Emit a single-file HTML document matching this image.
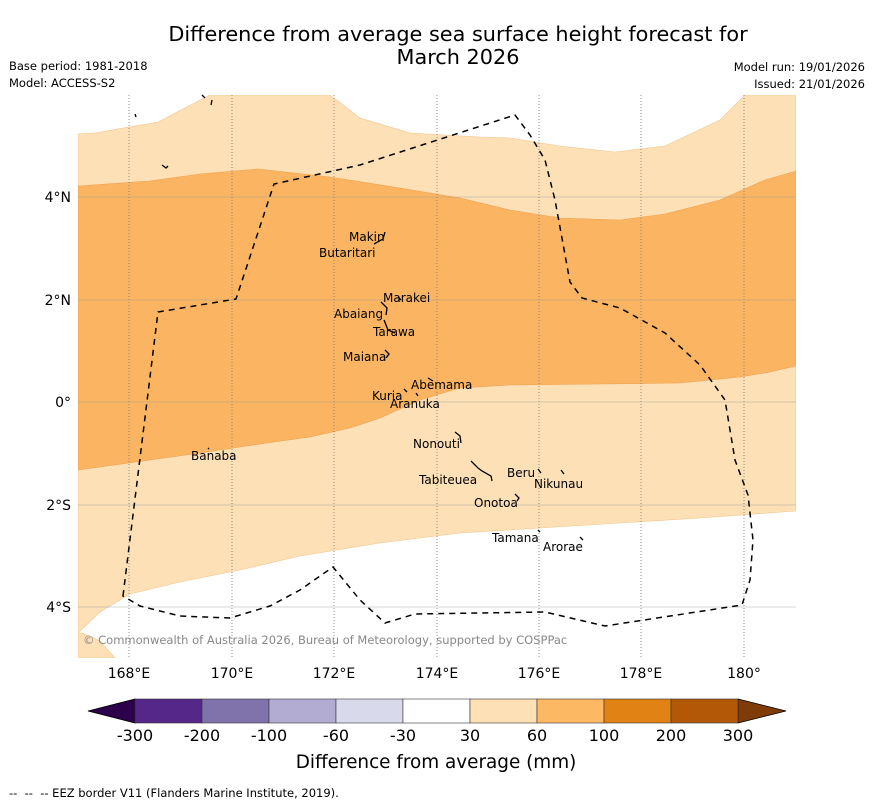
<!DOCTYPE html>
<html><head><meta charset="utf-8"><style>
body{margin:0;background:#fff;width:873px;height:804px;overflow:hidden;font-family:"DejaVu Sans","Liberation Sans",sans-serif}
svg text{font-family:"DejaVu Sans","Liberation Sans",sans-serif}
</style></head><body>
<svg width="873" height="804" viewBox="0 0 873 804" xmlns="http://www.w3.org/2000/svg">
<text x="458" y="41" text-anchor="middle" font-size="20.8">Difference from average sea surface height forecast for</text>
<text x="458" y="64" text-anchor="middle" font-size="20.8">March 2026</text>
<text x="9" y="70" font-size="11.5">Base period: 1981-2018</text>
<text x="9" y="87" font-size="11.5">Model: ACCESS-S2</text>
<text x="865" y="71" font-size="11.5" text-anchor="end">Model run: 19/01/2026</text>
<text x="865" y="88" font-size="11.5" text-anchor="end">Issued: 21/01/2026</text>

<g>
<clipPath id="mc"><rect x="78" y="95" width="718" height="563"/></clipPath>
<g clip-path="url(#mc)">
<rect x="78" y="95" width="718" height="563" fill="#fff"/>
<path fill="#fde0b6" stroke="#f3c48a" stroke-width="0.6" d="M78,134 L95,133 L158,122 L210,95 L330,95 L360,118 L410,133 L480,137 L510,138 L560,146 L615,152 L665,146 L720,120 L745,95 L796,95 L796,511 L700,518 L620,523 L540,528 L460,533 L380,543 L300,556 L240,570 L180,582 L130,594 L100,612 L78,633 Z"/>
<path fill="#fde0b6" stroke="#f3c48a" stroke-width="0.6" d="M78,633 L82,633 L100,641 L115,658 L78,658 Z"/>
<path fill="#fbb562" stroke="#eea050" stroke-width="0.6" d="M78,186 L150,181 L200,174 L258,169 L330,177 L400,188 L460,198 L510,210 L560,218 L620,220 L665,214 L720,200 L765,180 L796,171 L796,366 L770,372 L740,377 L680,383 L600,384 L510,385 L460,388 L420,400 L380,418 L350,428 L310,437 L260,444 L200,453 L150,460 L78,470 Z"/>
</g>
<g stroke="#777" stroke-width="0.8" stroke-dasharray="1,2">
<line x1="129" y1="95" x2="129" y2="658"/><line x1="232" y1="95" x2="232" y2="658"/><line x1="334" y1="95" x2="334" y2="658"/><line x1="437" y1="95" x2="437" y2="658"/><line x1="539" y1="95" x2="539" y2="658"/><line x1="641" y1="95" x2="641" y2="658"/><line x1="744" y1="95" x2="744" y2="658"/>
</g>
<g stroke="#999" stroke-width="0.6" opacity="0.8">
<line x1="78" y1="197" x2="796" y2="197"/><line x1="78" y1="300" x2="796" y2="300"/><line x1="78" y1="402" x2="796" y2="402"/><line x1="78" y1="505" x2="796" y2="505"/><line x1="78" y1="607" x2="796" y2="607"/>
</g>
<path fill="none" stroke="#000" stroke-width="1.5" stroke-dasharray="6,5" d="M123,596 L158,312 L236,299 L274,184 L360,165 L515,115 L530,135 L545,160 L555,200 L570,282 L582,298 L620,308 L665,333 L700,365 L725,400 L735,460 L748,495 L753,540 L750,580 L742,605 L605,626 L545,612 L415,614 L385,623 L360,600 L333,567 L300,590 L270,606 L230,618 L180,616 L140,606 Z"/>
<g fill="none" stroke="#000" stroke-width="1.3">
<path d="M374,244 L383,239 L385,232"/><path d="M381,302 L387,308 L386,315"/><path d="M384,320 L388,330 L395,333"/><path d="M385,350 L389,354 L386,358"/><path d="M428,378 L433,381"/><path d="M404,389 L407,392"/><path d="M416,393 L418,396"/><path d="M455,432 L460,436 L461,443"/><path d="M471,461 L478,468 L482,471 L491,476 L492,481"/><path d="M538,469 L541,473"/><path d="M561,470 L564,474"/><path d="M515,494 L519,498 L517,501"/><path d="M538,530 L540,532"/><path d="M580,537 L583,540"/><path d="M398,297 L401,300"/><path d="M208,448 L209,449"/><path d="M162,165 L166,168 L168,166"/><path d="M135,114 L136,117"/><path d="M212,100 L211,105"/><path d="M202,95 L205,98"/>
</g>
<g font-size="12">
<text x="349" y="241">Makin</text><text x="319" y="257">Butaritari</text>
<text x="383" y="302">Marakei</text><text x="334" y="318">Abaiang</text>
<text x="373" y="336">Tarawa</text><text x="343" y="361">Maiana</text>
<text x="411" y="389">Abemama</text><text x="372" y="400">Kuria</text>
<text x="390" y="408">Aranuka</text><text x="413" y="448">Nonouti</text>
<text x="419" y="484">Tabiteuea</text><text x="507" y="477">Beru</text>
<text x="534" y="488">Nikunau</text><text x="474" y="507">Onotoa</text>
<text x="492" y="542">Tamana</text><text x="543" y="551">Arorae</text>
<text x="191" y="460">Banaba</text>
</g>
<text x="83" y="644" font-size="11.5" fill="#888">© Commonwealth of Australia 2026, Bureau of Meteorology, supported by COSPPac</text>
</g>

<g font-size="14" text-anchor="end">
<text x="71" y="202">4°N</text><text x="71" y="305">2°N</text><text x="71" y="407">0°</text><text x="71" y="510">2°S</text><text x="71" y="612">4°S</text>
</g>
<g font-size="14" text-anchor="middle">
<text x="129" y="678">168°E</text><text x="232" y="678">170°E</text><text x="334" y="678">172°E</text><text x="437" y="678">174°E</text><text x="539" y="678">176°E</text><text x="641" y="678">178°E</text><text x="744" y="678">180°</text>
</g>

<g id="cbar"></g>
<text x="436" y="768" text-anchor="middle" font-size="18.4">Difference from average (mm)</text>
<text x="9" y="797" font-size="11.5" style="white-space:pre">--  --  -- EEZ border V11 (Flanders Marine Institute, 2019).</text>
</svg>
<script>
const cbLevels=["-300","-200","-100","-60","-30","30","60","100","200","300"];
const cbColors=["#542788","#8073ac","#b2abd2","#d8daeb","#ffffff","#fee0b6","#fdb863","#e08214","#b35806"];
const cbUnder="#2d004b", cbOver="#7f3b08";
const g=document.getElementById('cbar');
const NS="http://www.w3.org/2000/svg";
const x0=135,x1=738,y0=699,y1=723;
function cx(i){return x0+(x1-x0)*i/(cbLevels.length-1);}
let u=document.createElementNS(NS,'polygon');
u.setAttribute('points',`88,711 ${x0},${y0} ${x0},${y1}`);u.setAttribute('fill',cbUnder);u.setAttribute('stroke','#000');u.setAttribute('stroke-width','0.8');


g.appendChild(u);
let o=document.createElementNS(NS,'polygon');
o.setAttribute('points',`786,711 ${x1},${y0} ${x1},${y1}`);o.setAttribute('fill',cbOver);o.setAttribute('stroke','#000');o.setAttribute('stroke-width','0.8');


g.appendChild(o);
cbColors.forEach((c,i)=>{
 const r=document.createElementNS(NS,'rect');
 r.setAttribute('x',cx(i));r.setAttribute('y',y0);r.setAttribute('width',cx(i+1)-cx(i));r.setAttribute('height',y1-y0);
 r.setAttribute('fill',c);r.setAttribute('stroke','#333');r.setAttribute('stroke-width','0.6');
 
 
 g.appendChild(r);
});
cbLevels.forEach((l,i)=>{
 const t=document.createElementNS(NS,'text');
 t.setAttribute('x',cx(i));t.setAttribute('y',741);t.setAttribute('text-anchor','middle');t.setAttribute('font-size','16');
 t.textContent=l;
 
 
 g.appendChild(t);
});
</script>
</body></html>
